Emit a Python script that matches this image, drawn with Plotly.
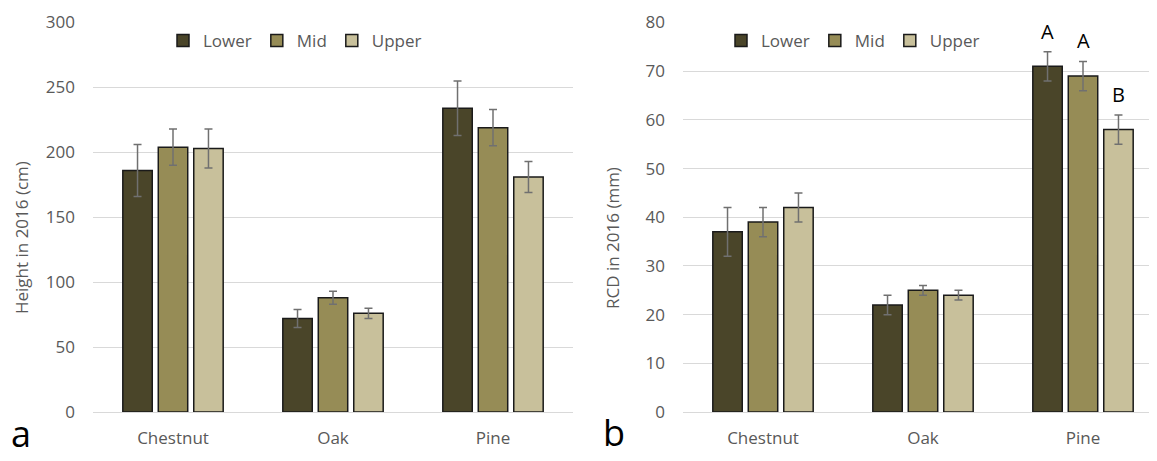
import plotly.graph_objects as go

categories = ["Chestnut", "Oak", "Pine"]
series = ["Lower", "Mid", "Upper"]
colors = ["#4a4529", "#968c56", "#c8c09b"]

height_vals = {"Lower": [186, 72, 234], "Mid": [204, 88, 219], "Upper": [203, 76, 181]}
height_err = {"Lower": [20, 7, 21], "Mid": [14, 5, 14], "Upper": [15, 4, 12]}

rcd_vals = {"Lower": [37, 22, 71], "Mid": [39, 25, 69], "Upper": [42, 24, 58]}
rcd_err = {"Lower": [5, 2, 3], "Mid": [3, 1, 3], "Upper": [3, 1, 3]}

pine_letters = ["A", "A", "B"]

WIN_W, WIN_H = 1157, 461
OFF = 8  # default page body margin
W, H = WIN_W - OFF, WIN_H - OFF
FONT = "Open Sans"
GRAY = "#595959"
BARGAP = 0.335
BARGROUPGAP = 0.17


def px(x):
    return (x - OFF) / W


def py(y):
    return 1 - (y - OFF) / H


fig = go.Figure()

for s, c in zip(series, colors):
    fig.add_trace(go.Bar(
        x=categories, y=height_vals[s], name=s, marker=dict(color=c, line=dict(color="#1a1a1a", width=1.5)),
        error_y=dict(type="data", array=height_err[s], color="#707070", thickness=1.5, width=4),
        xaxis="x", yaxis="y", legend="legend", offsetgroup=s))
for s, c in zip(series, colors):
    fig.add_trace(go.Bar(
        x=categories, y=rcd_vals[s], name=s, marker=dict(color=c, line=dict(color="#1a1a1a", width=1.5)),
        error_y=dict(type="data", array=rcd_err[s], color="#707070", thickness=1.5, width=4),
        xaxis="x2", yaxis="y2", legend="legend2", offsetgroup=s))

ydom = [py(412), py(22.5)]
xdom1 = [px(93), px(573)]
xdom2 = [px(683), 1.0]
cat_px = 160.0
x2_range = [-0.5, -0.5 + (WIN_W - 683) / cat_px]

axis_common = dict(showline=False, ticks="", automargin=False,
                   tickfont=dict(family=FONT, size=17, color=GRAY))
grid = dict(gridcolor="#d9d9d9", gridwidth=1.3, zeroline=True, zerolinecolor="#d9d9d9", zerolinewidth=1.3)
legend_common = dict(orientation="h", y=py(41), xanchor="left", yanchor="middle",
                     bgcolor="rgba(0,0,0,0)", font=dict(family=FONT, size=17, color=GRAY),
                     traceorder="normal")
fig.update_layout(
    width=W, height=H, margin=dict(l=0, r=0, t=0, b=0, autoexpand=False),
    paper_bgcolor="white", plot_bgcolor="white",
    barmode="group", bargap=BARGAP, bargroupgap=BARGROUPGAP,
    font=dict(family=FONT, color=GRAY),
    xaxis=dict(domain=xdom1, range=[-0.5, 2.5], type="category", ticklabelstandoff=14, **axis_common),
    xaxis2=dict(domain=xdom2, range=x2_range, type="category", anchor="y2", ticklabelstandoff=14, **axis_common),
    yaxis=dict(domain=ydom, range=[0, 300], dtick=50, ticklabelstandoff=17, **grid, **axis_common),
    yaxis2=dict(domain=ydom, range=[0, 80], dtick=10, anchor="x2", ticklabelstandoff=17, **grid, **axis_common),
    legend=dict(x=px(163), **legend_common),
    legend2=dict(x=px(721), **legend_common),
    showlegend=True,
)

annotations = [
    dict(text="Height in 2016 (cm)", x=px(21), y=py(238), xref="paper", yref="paper", textangle=-90,
         xanchor="center", yanchor="middle", showarrow=False, font=dict(family=FONT, size=17, color=GRAY)),
    dict(text="RCD in 2016 (mm)", x=px(612), y=py(238), xref="paper", yref="paper", textangle=-90,
         xanchor="center", yanchor="middle", showarrow=False, font=dict(family=FONT, size=17, color=GRAY)),
    dict(text="a", x=px(21), y=0, xref="paper", yref="paper", showarrow=False,
         xanchor="center", yanchor="bottom", yshift=1, font=dict(family=FONT, size=36, color="black")),
    dict(text="b", x=px(614), y=0, xref="paper", yref="paper", showarrow=False,
         xanchor="center", yanchor="bottom", yshift=2, font=dict(family=FONT, size=36, color="black")),
]

slot = (1 - BARGAP) / len(series)
pine_idx = categories.index("Pine")
for i, (s, letter) in enumerate(zip(series, pine_letters)):
    xpos = pine_idx + (i - (len(series) - 1) / 2) * slot
    top = rcd_vals[s][pine_idx] + rcd_err[s][pine_idx]
    annotations.append(dict(text=letter, x=xpos, y=top, xref="x2", yref="y2", showarrow=False,
                            yanchor="bottom", yshift=5, font=dict(family=FONT, size=20, color="black")))

fig.update_layout(annotations=annotations)
fig.write_html("out.html")
